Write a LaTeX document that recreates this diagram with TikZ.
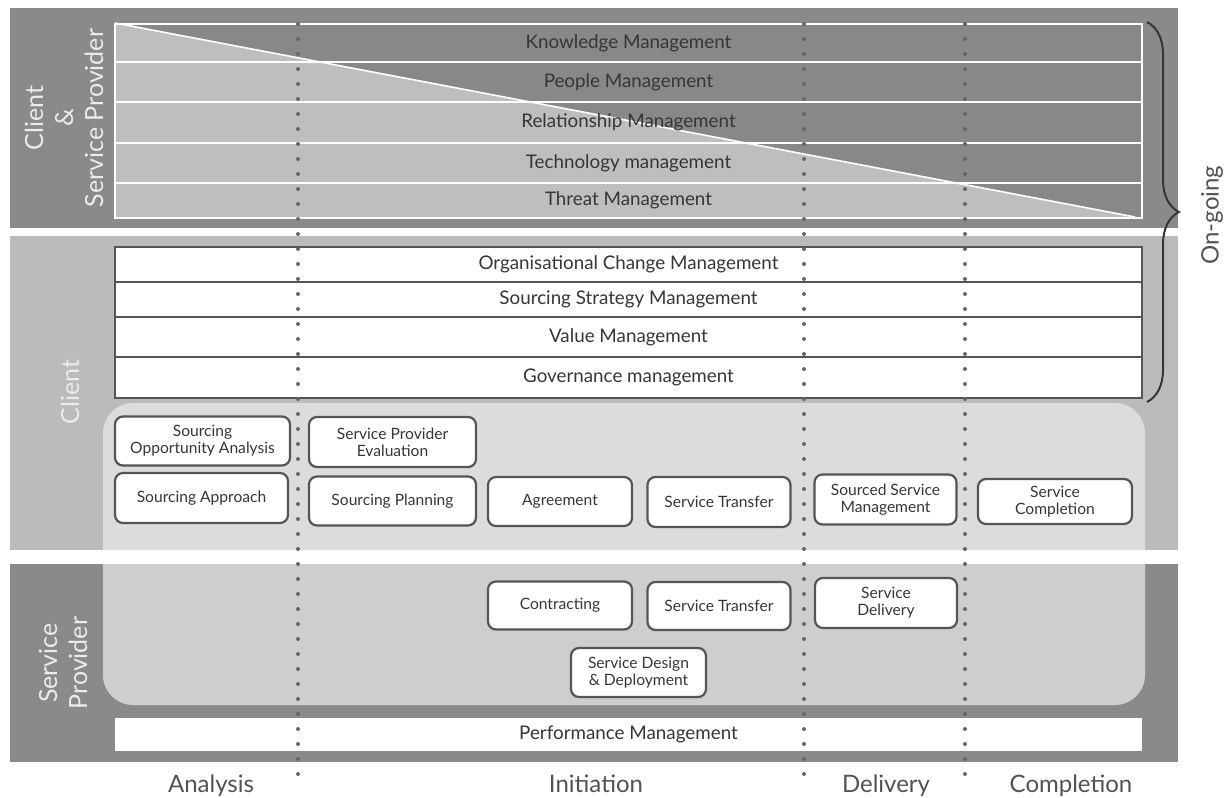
\documentclass[tikz,border=0pt]{standalone}
\usepackage{fontspec}
\setmainfont{Lato}
\usetikzlibrary{decorations.pathreplacing}

\definecolor{banddark}{HTML}{8A8A8A}
\definecolor{bandlight}{HTML}{BBBBBB}
\definecolor{rowdark}{HTML}{888888}
\definecolor{rowlight}{HTML}{BEBEBE}
\definecolor{clientinner}{HTML}{DCDCDC}
\definecolor{spinner}{HTML}{CECECE}
\definecolor{inktext}{HTML}{363636}
\definecolor{boxline}{HTML}{555555}
\definecolor{dotgrey}{HTML}{666666}

\tikzset{
	toprow/.style={rectangle, draw=white, line width=1pt, inner sep=0pt, minimum width=513.5pt, text=inktext, font=\fontsize{9.4}{11}\selectfont},
	whiterow/.style={rectangle, draw=boxline, fill=white, line width=0.7pt, inner sep=0pt, minimum width=513.5pt, text=inktext, font=\fontsize{9.4}{11}\selectfont},
	task/.style={rectangle, draw=boxline, fill=white, line width=1.1pt, rounded corners=4pt, inner sep=0pt, align=center, text=inktext, font=\fontsize{7.8}{8.6}\selectfont},
	bandlabel/.style={rotate=90, align=center, text=white!92!black, font=\fontsize{12.5}{15}\selectfont},
	phase/.style={text=black!68, font=\fontsize{12}{14}\selectfont},
	divider/.style={dotgrey, line width=2pt, line cap=round, dash pattern=on 0pt off 7.5pt}
}

\begin{document}
\begin{tikzpicture}[x=0.5pt, y=-0.5pt]
	\useasboundingbox (0,0) rectangle (1228,798);

	% bands
	\fill[banddark] (10,8) rectangle (1178,228);
	\fill[bandlight] (10,236) rectangle (1178,550);
	\fill[banddark] (10,564) rectangle (1178,762);
	\fill[clientinner, rounded corners=15pt] (103,550) -- (103,403) -- (1145,403) -- (1145,550);
	\fill[spinner, rounded corners=15pt] (103,564) -- (103,705) -- (1145,705) -- (1145,564);

	% client & service provider rows
	\fill[rowdark] (115,23) rectangle (1142,217);
	\fill[rowlight] (115,23) -- (1135,217) -- (115,217) -- cycle;
	\draw[white, line width=0.8pt] (115,23) -- (1135,217);
	\node[toprow, minimum height=19pt] (km) at (628.5,43) {Knowledge Management};
	\node[toprow, minimum height=20pt] (pm) at (628.5,82) {People Management};
	\node[toprow, minimum height=20.5pt] (rm) at (628.5,122.5) {Relationship Management};
	\node[toprow, minimum height=20pt] (tm) at (628.5,163) {Technology management};
	\node[toprow, minimum height=17.5pt] (thm) at (628.5,200.5) {Threat Management};

	% client rows
	\node[whiterow, minimum height=17.5pt] (ocm) at (628.5,264.5) {Organisational Change Management};
	\node[whiterow, minimum height=17.5pt] (ssm) at (628.5,299.5) {Sourcing Strategy Management};
	\node[whiterow, minimum height=20pt] (vm) at (628.5,337) {Value Management};
	\node[whiterow, minimum height=20.5pt] (gm) at (628.5,377.5) {Governance management};

	% performance row
	\node[whiterow, draw=none, minimum height=16.5pt] (perf) at (628.5,734.5) {Performance Management};

	% client tasks
	\node[task, minimum width=87.5pt, minimum height=24.5pt] (soa) at (202.5,441) {Sourcing\\Opportunity Analysis};
	\node[task, minimum width=86.5pt, minimum height=25pt] (sa) at (201.5,498) {Sourcing Approach};
	\node[task, minimum width=83.5pt, minimum height=25pt] (spe) at (392.5,442) {Service Provider\\Evaluation};
	\node[task, minimum width=83.5pt, minimum height=24.5pt] (spl) at (392.5,501) {Sourcing Planning};
	\node[task, minimum width=72pt, minimum height=24.5pt] (agr) at (560,501.5) {Agreement};
	\node[task, minimum width=71.5pt, minimum height=25pt] (stc) at (719,502) {Service Transfer};
	\node[task, minimum width=71pt, minimum height=25pt] (ssmg) at (885.5,499.5) {Sourced Service\\Management};
	\node[task, minimum width=77pt, minimum height=22.5pt] (sc) at (1055,501.5) {Service\\Completion};

	% provider tasks
	\node[task, minimum width=72pt, minimum height=24pt] (con) at (560,605.5) {Contracting};
	\node[task, minimum width=71.5pt, minimum height=24pt] (stp) at (719,606) {Service Transfer};
	\node[task, minimum width=71pt, minimum height=25pt] (sd) at (886,603) {Service\\Delivery};
	\node[task, minimum width=67.5pt, minimum height=24.5pt] (sdd) at (638.5,672.5) {Service Design\\\& Deployment};

	% phase dividers
	\coordinate (d1t) at (298,24);
	\coordinate (d1b) at (298,776);
	\coordinate (d2t) at (804,24);
	\coordinate (d2b) at (804,776);
	\coordinate (d3t) at (965,24);
	\coordinate (d3b) at (965,776);
	\draw[divider] (d1t) -- (d1b);
	\draw[divider] (d2t) -- (d2b);
	\draw[divider] (d3t) -- (d3b);

	% band labels
	\node[bandlabel] (cspl) at (64,118) {Client\\\&\\Service Provider};
	\node[bandlabel] (cl) at (70,392) {Client};
	\node[bandlabel] (spl) at (63,663) {Service\\Provider};

	% on-going brace
	\coordinate (bt) at (1147,22);
	\coordinate (bb) at (1147,402);
	\draw[inktext, line width=1pt, decorate, decoration={brace, amplitude=16pt}] (bt) -- (bb);
	\node[phase, rotate=90] (ong) at (1212,215) {On-going};

	% phase labels
	\node[phase, anchor=base] (ana) at (211,792) {Analysis};
	\node[phase, anchor=base] (ini) at (596,792) {Initiation};
	\node[phase, anchor=base] (del) at (886,792) {Delivery};
	\node[phase, anchor=base] (com) at (1071,792) {Completion};
\end{tikzpicture}
\end{document}
